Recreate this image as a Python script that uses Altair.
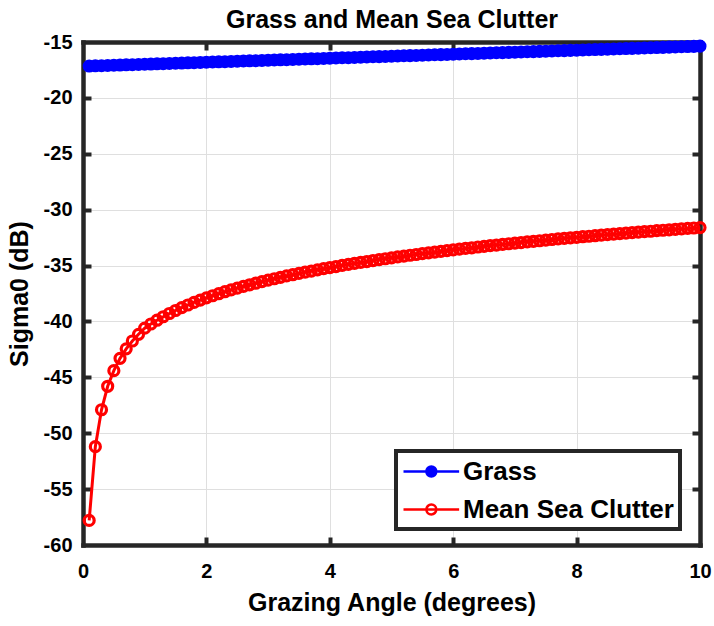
import altair as alt
import pandas as pd

# Grazing angles in degrees (0.1 deg steps)
angle = [round(0.1 * k, 1) for k in range(1, 101)]

# Grass backscatter, dB
grass_db = [
    -17.15, -17.13, -17.12, -17.10, -17.08, -17.06, -17.04, -17.03, -17.01, -16.99,
    -16.97, -16.95, -16.94, -16.92, -16.90, -16.88, -16.86, -16.85, -16.83, -16.81,
    -16.79, -16.77, -16.76, -16.74, -16.72, -16.70, -16.68, -16.67, -16.65, -16.63,
    -16.61, -16.59, -16.58, -16.56, -16.54, -16.52, -16.50, -16.49, -16.47, -16.45,
    -16.43, -16.41, -16.40, -16.38, -16.36, -16.34, -16.32, -16.31, -16.29, -16.27,
    -16.25, -16.23, -16.22, -16.20, -16.18, -16.16, -16.14, -16.13, -16.11, -16.09,
    -16.07, -16.05, -16.04, -16.02, -16.00, -15.98, -15.96, -15.95, -15.93, -15.91,
    -15.89, -15.87, -15.86, -15.84, -15.82, -15.80, -15.78, -15.77, -15.75, -15.73,
    -15.71, -15.69, -15.68, -15.66, -15.64, -15.62, -15.60, -15.59, -15.57, -15.55,
    -15.53, -15.51, -15.50, -15.48, -15.46, -15.44, -15.42, -15.41, -15.39, -15.37,
]

# Mean sea clutter, dB
sea_db = [
    -57.80, -51.20, -47.90, -45.80, -44.40, -43.30, -42.45, -41.75, -41.15, -40.60,
    -40.23, -39.89, -39.58, -39.29, -39.02, -38.76, -38.53, -38.30, -38.09, -37.89,
    -37.70, -37.52, -37.34, -37.18, -37.02, -36.87, -36.72, -36.58, -36.44, -36.31,
    -36.18, -36.05, -35.93, -35.82, -35.70, -35.59, -35.49, -35.38, -35.28, -35.18,
    -35.09, -34.99, -34.90, -34.81, -34.72, -34.64, -34.55, -34.47, -34.39, -34.31,
    -34.23, -34.16, -34.08, -34.01, -33.94, -33.87, -33.80, -33.73, -33.66, -33.60,
    -33.53, -33.47, -33.41, -33.34, -33.28, -33.22, -33.17, -33.11, -33.05, -32.99,
    -32.94, -32.88, -32.83, -32.78, -32.72, -32.67, -32.62, -32.57, -32.52, -32.47,
    -32.42, -32.38, -32.33, -32.28, -32.24, -32.19, -32.14, -32.10, -32.06, -32.01,
    -31.97, -31.93, -31.88, -31.84, -31.80, -31.76, -31.72, -31.68, -31.64, -31.60,
]

series_names = ["Grass", "Mean Sea Clutter"]
series_colors = ["#0000ff", "#ff0000"]

x_ticks = [0, 2, 4, 6, 8, 10]
y_ticks = [-60, -55, -50, -45, -40, -35, -30, -25, -20, -15]
x_inner = [2, 4, 6, 8]
y_inner = [-55, -50, -45, -40, -35, -30, -25, -20]

chart_title = "Grass and Mean Sea Clutter"

df = pd.DataFrame({
    "angle": angle + angle,
    "sigma0": grass_db + sea_db,
    "series": [series_names[0]] * len(angle) + [series_names[1]] * len(angle),
})

W, H = 617, 503
FONT = "Liberation Sans"
FRAME = "#262626"
GRID = "#dfdfdf"

x_scale = alt.Scale(domain=[0, 10], nice=False, zero=False)
y_scale = alt.Scale(domain=[-60, -15], nice=False, zero=False)

# legend glyph: line with a marker in the middle
LEGEND_PATH = "M-1,0L3.28,0M1.52,0A0.38,0.38,0,1,1,0.76,0A0.38,0.38,0,1,1,1.52,0Z"

legend = alt.Legend(
    title=None,
    orient="none",
    legendX=313,
    legendY=409,
    direction="vertical",
    symbolType=LEGEND_PATH,
    symbolSize=676,
    symbolStrokeWidth=2.5,
    symbolFillColor=alt.ExprRef("datum.value === 'Grass' ? '#0000ff' : 'transparent'"),
    labelFont=FONT,
    labelFontSize=26,
    labelFontWeight="bold",
    labelColor="#000000",
    labelLimit=400,
    labelOffset=32,
    padding=6,
    rowPadding=10,
    fillColor="#ffffff",
    strokeColor=FRAME,
)

label_x = alt.Axis(
    orient="bottom", values=x_ticks, grid=False, ticks=False, tickSize=0, domain=False,
    labelFont=FONT, labelFontSize=20, labelFontWeight="bold", labelColor="#000000",
    labelPadding=16, labelFlush=False, labelOverlap=False, labelExpr="'' + datum.value",
    title="Grazing Angle (degrees)", titleFont=FONT, titleFontSize=25, titleFontWeight="bold",
    titleColor="#000000", titleBaseline="alphabetic", titleY=65,
)
label_y = alt.Axis(
    orient="left", values=y_ticks, grid=False, ticks=False, tickSize=0, domain=False,
    labelFont=FONT, labelFontSize=20, labelFontWeight="bold", labelColor="#000000",
    labelPadding=11, labelFlush=False, labelOverlap=False, labelExpr="'' + datum.value",
    title="Sigma0 (dB)", titleFont=FONT, titleFontSize=25, titleFontWeight="bold",
    titleColor="#000000", titleBaseline="alphabetic", titleX=-56,
)


def frame_axis(orient, offset, values, grid, **extra):
    return alt.Axis(
        orient=orient, offset=offset, values=values, grid=grid, gridColor=GRID, gridWidth=1,
        ticks=True, tickSize=8, tickWidth=4, tickColor=FRAME,
        labels=False, domain=True, domainWidth=4.5, domainColor=FRAME, domainCap="square",
        **extra,
    )


# the top edge of the box carries the chart heading
top_axis = frame_axis(
    "bottom", -H, x_inner, True,
    title=chart_title, titleFont=FONT, titleFontSize=25, titleFontWeight="bold",
    titleColor="#000000", titleBaseline="alphabetic", titleX=W / 2, titleY=-15,
    titleAlign="center",
)

base = alt.Chart(df)

lines = base.mark_line(strokeWidth=3).encode(
    x=alt.X("angle:Q", scale=x_scale, axis=label_x),
    y=alt.Y("sigma0:Q", scale=y_scale, axis=label_y),
    color=alt.Color("series:N", scale=alt.Scale(domain=series_names, range=series_colors),
                    legend=legend),
)

grass_pts = base.transform_filter(alt.datum.series == series_names[0]).mark_point(
    filled=True, size=170, color=series_colors[0], opacity=1
).encode(
    x=alt.X("angle:Q", scale=x_scale, axis=None),
    y=alt.Y("sigma0:Q", scale=y_scale, axis=None),
)

sea_pts = base.transform_filter(alt.datum.series == series_names[1]).mark_point(
    filled=False, size=100, color=series_colors[1], strokeWidth=3.2, opacity=1
).encode(
    x=alt.X("angle:Q", scale=x_scale, axis=None),
    y=alt.Y("sigma0:Q", scale=y_scale, axis=None),
)

# box frame with inward ticks: top/left edges
frame_a = base.mark_point(opacity=0).encode(
    x=alt.X("angle:Q", scale=x_scale, axis=top_axis),
    y=alt.Y("sigma0:Q", scale=y_scale, axis=frame_axis("right", -W, y_inner, True, title=None)),
)
# bottom/right edges
frame_b = base.mark_point(opacity=0).encode(
    x=alt.X("angle:Q", scale=x_scale, axis=frame_axis("top", -H, x_inner, False, title=None)),
    y=alt.Y("sigma0:Q", scale=y_scale, axis=frame_axis("left", -W, y_inner, False, title=None)),
)

chart = (
    alt.layer(frame_a, frame_b, lines, grass_pts, sea_pts)
    .resolve_axis(x="independent", y="independent")
    .properties(
        width=W,
        height=H,
        autosize=alt.AutoSizeParams(type="none"),
        padding={"left": 83, "top": 42, "right": 14, "bottom": 81},
        background="#ffffff",
    )
    .configure_view(strokeWidth=0)
    .configure_legend(strokeWidth=4)
)

chart.save("out.html", embed_options={"renderer": "svg", "actions": False})
